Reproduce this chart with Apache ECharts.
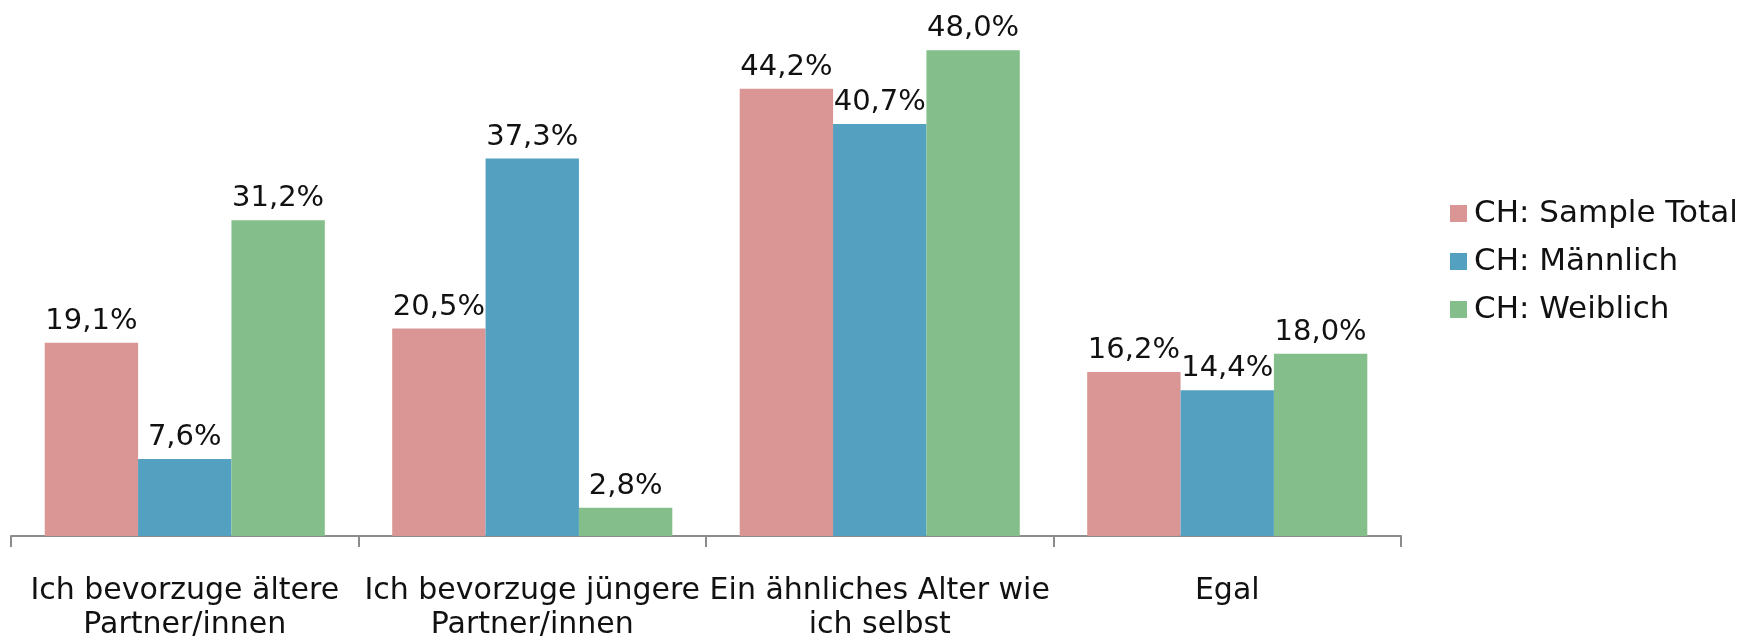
<!DOCTYPE html>
<html>
<head>
<meta charset="utf-8">
<script src="https://cdn.jsdelivr.net/npm/echarts@6/dist/echarts.min.js"></script>
<style>
  html, body { margin: 0; padding: 0; background: #fff; }
  #chart { width: 1755px; height: 638px; }
</style>
</head>
<body>
<div id="chart"></div>
<script>
// categories on the x axis
const categories = [
  'Ich bevorzuge ältere\nPartner/innen',
  'Ich bevorzuge jüngere\nPartner/innen',
  'Ein ähnliches Alter wie\nich selbst',
  'Egal'
];
const seriesNames = ['CH: Sample Total', 'CH: Männlich', 'CH: Weiblich'];
const sampleTotal = [19.1, 20.5, 44.2, 16.2];
const maennlich = [7.6, 37.3, 40.7, 14.4];
const weiblich = [31.2, 2.8, 48.0, 18.0];

const colors = ['#D99694', '#53A0C1', '#84BF8B'];
const font = 'DejaVu Sans';

const chart = echarts.init(document.getElementById('chart'));

function makeSeries(name, data, color) {
  return {
    name: name,
    type: 'bar',
    data: data,
    barGap: 0,
    barCategoryGap: '19.4%',
    itemStyle: { color: color },
    label: {
      show: true,
      position: 'top',
      distance: 7,
      color: '#111',
      fontFamily: font,
      fontSize: 29,
      formatter: function (p) {
        return p.value.toFixed(1).replace('.', ',') + '%';
      }
    }
  };
}

const option = {
  animation: false,
  grid: {
    left: 11,
    right: 354,
    top: 30,
    bottom: 102,
    outerBoundsMode: 'none'
  },
  legend: {
    orient: 'vertical',
    left: 1445,
    top: 193,
    itemWidth: 17,
    itemHeight: 17,
    itemGap: 17,
    icon: 'rect',
    textStyle: {
      fontFamily: font,
      fontSize: 31,
      color: '#111',
      padding: [0, 0, 0, 2]
    },
    data: seriesNames
  },
  xAxis: {
    type: 'category',
    data: categories,
    axisLine: { lineStyle: { color: '#8c8c8c', width: 2 } },
    axisTick: { show: true, length: 11, lineStyle: { color: '#8c8c8c', width: 2 } },
    axisLabel: {
      interval: 0,
      margin: 38,
      color: '#111',
      fontFamily: font,
      fontSize: 30,
      lineHeight: 34
    }
  },
  yAxis: {
    type: 'value',
    min: 0,
    max: 50,
    show: false
  },
  series: [
    makeSeries(seriesNames[0], sampleTotal, colors[0]),
    makeSeries(seriesNames[1], maennlich, colors[1]),
    makeSeries(seriesNames[2], weiblich, colors[2])
  ]
};

chart.setOption(option);
</script>
</body>
</html>
